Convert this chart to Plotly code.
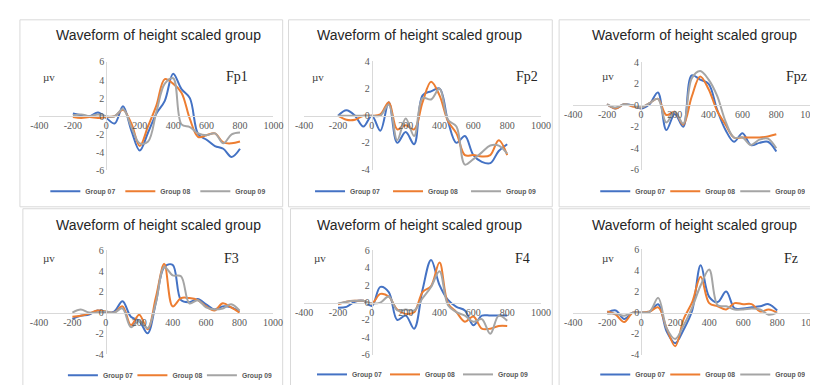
import plotly.graph_objects as go

# ---------------- data ----------------
TIME_MS = [-200, -150, -100, -50, 0, 50, 100, 150, 200, 250, 300,
           350, 400, 450, 500, 550, 600, 650, 700, 750, 800]

GROUPS = ["Group 07", "Group 08", "Group 09"]
COLORS = ["#4472C4", "#ED7D31", "#A5A5A5"]

X_TICKS = [-400, -200, 0, 200, 400, 600, 800, 1000]
X_TICK_LABELS = ["-400", "-200", "0", "200", "400", "600", "800", "1000"]

FP1_G07 = [0.3, 0.1, 0.0, 0.4, -0.2, -0.8, 1.1, -1.6, -3.8, -1.8, 0.3, 1.7, 4.7, 3.0, 2.0, -2.0, -2.6, -3.3, -3.6, -4.5, -3.6]
FP1_G08 = [-0.1, -0.2, -0.1, -0.2, -0.1, 0.0, 0.7, -0.8, -3.3, -1.1, 1.2, 4.1, 3.6, 2.6, -0.3, -2.3, -2.1, -1.9, -2.9, -3.0, -2.8]
FP1_G09 = [0.1, 0.2, 0.0, 0.2, 0.0, 0.0, 0.8, -1.2, -3.0, -2.8, 0.5, 3.6, 4.2, -0.9, -1.2, -1.9, -2.1, -1.9, -3.0, -2.0, -1.8]

FP2_G07 = [0.0, 0.4, 0.0, -0.8, 0.0, -1.1, 1.0, -2.0, -1.2, -2.1, 1.5, 1.8, 2.0, -0.4, -2.0, -1.5, -2.9, -3.4, -3.5, -2.6, -2.1]
FP2_G08 = [0.0, -0.3, -0.3, 0.0, 0.0, 0.1, 1.0, -1.0, -0.7, -1.0, 1.0, 2.5, 1.5, -0.4, -1.3, -2.9, -2.9, -3.0, -2.9, -1.8, -2.9]
FP2_G09 = [0.0, 0.0, 0.0, 0.0, 0.0, 0.0, 0.8, -1.8, -0.2, -1.5, 1.3, 1.2, 2.0, -0.3, -0.8, -3.6, -3.2, -2.7, -2.2, -2.2, -2.8]

FPZ_G07 = [0.1, -0.3, 0.1, 0.0, -0.3, 0.1, 1.2, -2.3, -0.8, -2.0, 2.8, 2.4, 2.0, -0.4, -2.3, -3.4, -2.6, -3.7, -3.5, -3.4, -4.3]
FPZ_G08 = [0.1, -0.3, 0.1, -0.1, -0.2, 0.2, 0.6, -0.9, -0.6, -1.8, 0.8, 2.7, 1.5, -0.5, -1.8, -3.0, -3.0, -3.0, -3.0, -2.9, -2.7]
FPZ_G09 = [0.1, -0.2, 0.1, 0.0, -0.2, 0.2, 0.6, -1.6, -0.6, -1.7, 2.5, 3.2, 2.4, 0.9, -1.5, -3.0, -3.0, -3.7, -3.2, -3.1, -4.0]

F3_G07 = [-0.6, -0.3, -0.2, 0.2, 0.0, 0.1, 1.1, -0.4, -0.8, -2.0, 1.0, 4.4, 4.6, 1.2, 1.0, 1.3, 0.8, 0.3, 0.6, 0.5, 0.1]
F3_G08 = [-0.4, -0.3, -0.1, 0.2, 0.1, 0.0, 0.6, -1.2, -0.2, -1.6, 1.5, 4.7, 0.6, 1.4, 1.4, 1.2, 0.6, 0.2, 0.9, 0.5, 0.0]
F3_G09 = [0.0, 0.3, 0.0, 0.0, 0.1, 0.0, 0.4, -1.4, -0.8, -1.5, 1.0, 4.4, 3.6, 3.5, 0.9, 1.2, 0.5, 0.3, 0.4, 0.8, 0.2]

F4_G07 = [-0.6, -0.5, 0.1, 0.2, -0.4, 1.8, 1.2, -2.0, -1.5, -3.0, 1.5, 4.9, 2.0, 0.3, -0.5, -0.9, -2.6, -1.5, -1.5, -1.5, -1.5]
F4_G08 = [-0.2, 0.1, 0.2, 0.2, -0.1, 1.0, 0.7, -0.8, -1.3, -1.1, 1.2, 1.9, 4.6, -0.1, -1.1, -2.2, -1.6, -3.0, -3.0, -2.7, -2.7]
F4_G09 = [-0.1, 0.1, 0.2, 0.2, -0.1, 0.0, 0.7, -0.9, -0.8, -0.9, 0.5, 1.8, 3.6, -0.3, -1.1, -1.5, -2.2, -1.9, -3.6, -1.5, -2.1]

FZ_G07 = [0.0, 0.2, -0.6, 0.0, 0.0, 0.1, 0.8, -1.8, -2.9, -1.6, 0.2, 4.5, 1.5, 1.0, 2.0, 0.4, 0.4, 0.5, 0.6, 0.8, 0.2]
FZ_G08 = [0.1, -0.2, -0.9, 0.0, 0.0, 0.1, 0.5, -1.5, -3.2, -0.6, 1.0, 3.4, 0.9, 0.6, 0.3, 0.9, 0.8, 0.8, 0.1, 0.3, 0.0]
FZ_G09 = [-0.1, -0.1, -0.3, 0.0, 0.0, 0.1, 1.4, -1.5, -2.5, -1.2, 0.5, 2.6, 4.1, 0.7, 0.6, 0.3, 0.3, 0.4, 0.3, -0.2, 0.0]

CHANNELS = ["Fp1", "Fp2", "Fpz", "F3", "F4", "Fz"]
SERIES = {
    "Fp1": [FP1_G07, FP1_G08, FP1_G09],
    "Fp2": [FP2_G07, FP2_G08, FP2_G09],
    "Fpz": [FPZ_G07, FPZ_G08, FPZ_G09],
    "F3": [F3_G07, F3_G08, F3_G09],
    "F4": [F4_G07, F4_G08, F4_G09],
    "Fz": [FZ_G07, FZ_G08, FZ_G09],
}
Y_RANGES = {"Fp1": (-6, 6), "Fp2": (-4, 4), "Fpz": (-6, 4),
            "F3": (-4, 6), "F4": (-6, 6), "Fz": (-4, 6)}
Y_TICKS = {
    "Fp1": [-6, -4, -2, 0, 2, 4, 6],
    "Fp2": [-4, -2, 0, 2, 4],
    "Fpz": [-6, -4, -2, 0, 2, 4],
    "F3": [-4, -2, 0, 2, 4, 6],
    "F4": [-6, -4, -2, 0, 2, 4, 6],
    "Fz": [-4, -2, 0, 2, 4, 6],
}
Y_TICK_LABELS = {
    "Fp1": ["-6", "-4", "-2", "0", "2", "4", "6"],
    "Fp2": ["-4", "-2", "0", "2", "4"],
    "Fpz": ["-6", "-4", "-2", "0", "2", "4"],
    "F3": ["-4", "-2", "0", "2", "4", "6"],
    "F4": ["-6", "-4", "-2", "0", "2", "4", "6"],
    "Fz": ["-4", "-2", "0", "2", "4", "6"],
}

TITLE = "Waveform of height scaled group"
UNIT = "µv"

# ---------------- layout geometry (pixels) ----------------
W, H = 818, 385
GEOM = {
    "Fp1": dict(x0=23, x1=262.5, yt=49.5, yb=161.5, title=(145, 22), unit=(33, 65), lab=(225, 65), leg=(39, 183), step=71, box=(3, 6, 272, 199)),
    "Fp2": dict(x0=294, x1=536.5, yt=49, yb=161, title=(412, 22), unit=(308, 65), lab=(522, 65), leg=(310, 183), step=74, box=(278, 6, 548, 199)),
    "Fpz": dict(x0=569.5, x1=812, yt=50, yb=160.7, title=(694, 22), unit=(605, 64), lab=(798, 64), leg=(602, 183), step=66, box=(555, 6, 816, 199)),
    "F3": dict(x0=22.5, x1=262, yt=244, yb=351, title=(145, 218), unit=(33, 252), lab=(220, 252), leg=(57, 373), step=65.5, box=(6, 201, 272, 384)),
    "F4": dict(x0=294, x1=536.5, yt=244, yb=351.7, title=(412, 218), unit=(310, 252), lab=(518, 252), leg=(312, 372), step=69, box=(280, 201, 548, 384)),
    "Fz": dict(x0=569.5, x1=813, yt=243, yb=351.7, title=(694, 218), unit=(605, 252), lab=(792, 252), leg=(602, 372), step=66, box=(555, 201, 816, 384)),
}

def px(x):
    return x / W

def py(y):
    return 1 - y / H

fig = go.Figure()
layout = dict(
    width=W, height=H, margin=dict(l=0, r=0, t=0, b=0),
    paper_bgcolor="white", plot_bgcolor="white",
    annotations=[], shapes=[],
)

TICKFONT = dict(family="Liberation Serif", size=10, color="#595959")

for i, ch in enumerate(CHANNELS):
    g = GEOM[ch]
    n = "" if i == 0 else str(i + 1)
    ymin, ymax = Y_RANGES[ch]
    xr = (-400, 1000)
    x_zero_px = g["x0"] + (0 - xr[0]) / (xr[1] - xr[0]) * (g["x1"] - g["x0"])
    y_zero_px = g["yt"] + (ymax - 0) / (ymax - ymin) * (g["yb"] - g["yt"])

    layout["xaxis" + n] = dict(
        domain=[px(g["x0"]), px(g["x1"])], range=list(xr),
        tickvals=X_TICKS, ticktext=X_TICK_LABELS, anchor="free", position=py(y_zero_px),
        showline=True, linecolor="#d9d9d9", linewidth=1,
        showgrid=False, zeroline=False, ticks="", tickfont=TICKFONT,
        fixedrange=True,
    )
    layout["yaxis" + n] = dict(
        domain=[py(g["yb"]), py(g["yt"])], range=[ymin, ymax],
        tickvals=Y_TICKS[ch], ticktext=Y_TICK_LABELS[ch],
        anchor="free", position=px(x_zero_px),
        showline=True, linecolor="#d9d9d9", linewidth=1,
        showgrid=False, zeroline=False, ticks="", tickfont=TICKFONT,
        fixedrange=True,
    )
    leg = "legend" + n
    for gname, color, vals in zip(GROUPS, COLORS, SERIES[ch]):
        fig.add_trace(go.Scatter(
            x=TIME_MS, y=vals, mode="lines", name=gname,
            line=dict(color=color, width=2, shape="spline", smoothing=1.0),
            xaxis="x" + n, yaxis="y" + n, legend=leg, showlegend=True,
        ))
    layout[leg] = dict(
        orientation="h", x=px(g["leg"][0] - 10), y=py(g["leg"][1]),
        xanchor="left", yanchor="middle", bgcolor="rgba(0,0,0,0)",
        font=dict(family="Liberation Sans", size=6.8, color="#595959", weight="bold"),
        entrywidthmode="pixels", entrywidth=g["step"] - 41,
        itemclick=False, itemdoubleclick=False, tracegroupgap=0,
    )
    layout["annotations"] += [
        dict(text=TITLE, x=px(g["title"][0]), y=py(g["title"][1]), xref="paper", yref="paper",
             xanchor="center", yanchor="middle", showarrow=False,
             font=dict(family="Liberation Sans", size=14, color="#262626")),
        dict(text=UNIT, x=px(g["unit"][0]), y=py(g["unit"][1]), xref="paper", yref="paper",
             xanchor="center", yanchor="middle", showarrow=False,
             font=dict(family="Liberation Serif", size=11, color="#404040")),
        dict(text=ch, x=px(g["lab"][0]), y=py(g["lab"][1]), xref="paper", yref="paper",
             xanchor="center", yanchor="middle", showarrow=False,
             font=dict(family="Liberation Serif", size=14, color="#262626")),
    ]
    bx0, by0, bx1, by1 = g["box"]
    layout["shapes"].append(dict(
        type="rect", xref="paper", yref="paper",
        x0=px(bx0), x1=px(bx1), y0=py(by1), y1=py(by0),
        line=dict(color="#d9d9d9", width=1), layer="below",
    ))

fig.update_layout(**layout)
fig.write_html("out.html")
